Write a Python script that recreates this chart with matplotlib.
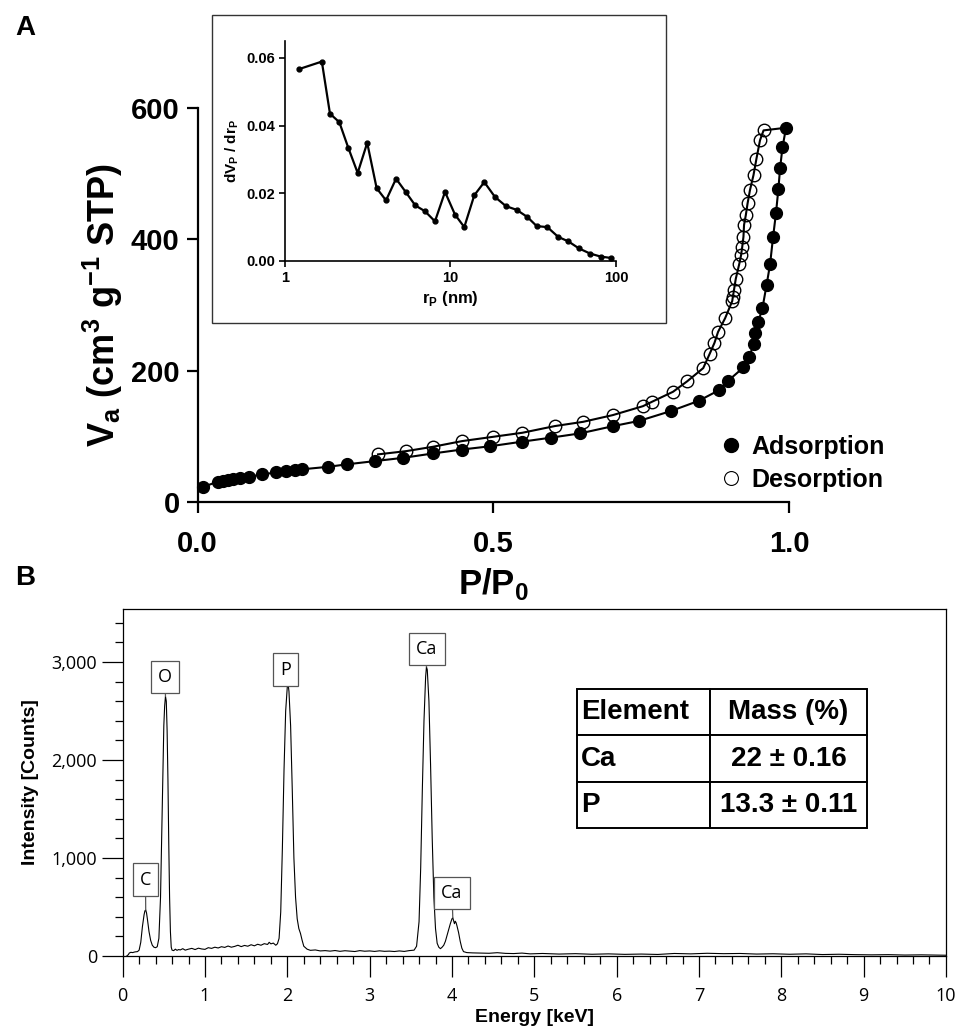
import matplotlib
matplotlib.use("Agg")
import matplotlib.pyplot as plt
from matplotlib.lines import Line2D
from matplotlib.patches import Rectangle
from matplotlib.ticker import MultipleLocator, FuncFormatter, FixedLocator, NullLocator

plt.rcParams["font.family"] = ["Liberation Sans", "DejaVu Sans"]
plt.rcParams["mathtext.fontset"] = "custom"
plt.rcParams["mathtext.rm"] = "Liberation Sans"
plt.rcParams["mathtext.bf"] = "Liberation Sans:bold"

# ---- panel A: N2 isotherm ----
ads_p = [0.009, 0.034, 0.042, 0.052, 0.060, 0.072, 0.087, 0.108, 0.132, 0.149,
         0.165, 0.176, 0.221, 0.252, 0.300, 0.348, 0.398, 0.447, 0.495, 0.549,
         0.597, 0.647, 0.703, 0.747, 0.800, 0.847, 0.882, 0.897, 0.923, 0.933,
         0.940, 0.942, 0.948, 0.955, 0.962, 0.968, 0.973, 0.978, 0.982, 0.985,
         0.989, 0.995]
ads_v = [23, 31, 32, 33.5, 35, 37, 38.5, 42, 45, 47,
         48.7, 49.8, 53.7, 57.4, 62.4, 67.4, 74, 80, 85, 92,
         98, 104.6, 115.7, 123.7, 138.5, 154, 170.5, 184.6, 205, 221,
         240.5, 258, 274.4, 294.8, 330, 362, 403, 440, 476, 509,
         540, 570]
des_p = [0.957, 0.951, 0.945, 0.940, 0.934, 0.930, 0.927, 0.924, 0.923, 0.921,
         0.919, 0.916, 0.910, 0.907, 0.905, 0.904, 0.892, 0.880, 0.874, 0.866,
         0.855, 0.828, 0.804, 0.769, 0.753, 0.702, 0.652, 0.604, 0.549, 0.500,
         0.447, 0.398, 0.353, 0.305]
des_v = [566, 551, 523, 498, 475, 455, 437, 422, 404, 389,
         376, 363, 340, 323, 312, 306, 280, 259, 242.5, 226,
         204, 184, 168, 153, 146, 132.4, 122.2, 115.7, 105.5, 99.4,
         92.8, 84.2, 77.6, 72.6]

# inset: pore size distribution
r_nm = [1.22, 1.67, 1.87, 2.13, 2.41, 2.75, 3.14, 3.58, 4.08, 4.69,
        5.36, 6.13, 7.01, 8.06, 9.27, 10.65, 12.12, 13.93, 16.01, 18.58,
        21.64, 25.11, 29.13, 33.2, 38.5, 44.8, 51.5, 59.8, 69.7, 80.8, 92.9]
dvdr = [0.0567, 0.0589, 0.0435, 0.0410, 0.0335, 0.0260, 0.0349, 0.0215, 0.0179, 0.0243,
        0.0204, 0.0164, 0.0147, 0.0117, 0.0204, 0.0137, 0.0100, 0.0194, 0.0233, 0.0189,
        0.0162, 0.0151, 0.0130, 0.0103, 0.0100, 0.0071, 0.0058, 0.0037, 0.0022, 0.0013, 0.0009]

# ---- panel B: EDS spectrum ----
energy = [0.05, 0.07, 0.08, 0.10, 0.12, 0.15, 0.18, 0.20, 0.22, 0.24, 0.26, 0.27, 0.28,
          0.29, 0.30, 0.32, 0.34, 0.36, 0.38, 0.40, 0.42, 0.44, 0.46, 0.48, 0.50,
          0.51, 0.52, 0.53, 0.54, 0.55, 0.56, 0.57, 0.58, 0.59, 0.60, 0.62, 0.64,
          0.66, 0.68, 0.70, 0.73, 0.76, 0.80, 0.84, 0.88, 0.92, 0.96, 1.00, 1.04,
          1.08, 1.12, 1.16, 1.20, 1.24, 1.28, 1.32, 1.36, 1.40, 1.44, 1.48, 1.52,
          1.56, 1.60, 1.64, 1.68, 1.72, 1.76, 1.78, 1.80, 1.83, 1.86, 1.88, 1.90,
          1.92, 1.94, 1.96, 1.98, 2.00, 2.01, 2.02, 2.04, 2.06, 2.08, 2.10, 2.12,
          2.14, 2.16, 2.18, 2.20, 2.24, 2.28, 2.34, 2.40, 2.46, 2.52, 2.58, 2.64,
          2.70, 2.76, 2.82, 2.88, 2.94, 3.00, 3.06, 3.12, 3.18, 3.24, 3.30, 3.36,
          3.42, 3.48, 3.54, 3.57, 3.60, 3.62, 3.64, 3.66, 3.68, 3.69, 3.70, 3.72,
          3.74, 3.76, 3.78, 3.80, 3.82, 3.84, 3.86, 3.88, 3.90, 3.92, 3.94, 3.96,
          3.98, 4.00, 4.01, 4.02, 4.03, 4.04, 4.05, 4.06, 4.08, 4.10, 4.12, 4.14,
          4.18, 4.25, 4.35, 4.45, 4.55, 4.65, 4.75, 4.85, 4.95, 5.1, 5.3, 5.5,
          5.7, 5.9, 6.1, 6.3, 6.5, 6.7, 6.9, 7.1, 7.3, 7.5, 7.7, 7.9, 8.1, 8.3,
          8.5, 8.7, 8.9, 9.1, 9.3, 9.5, 9.7, 9.9, 10.0]
counts = [0, 15, 30, 38, 35, 42, 45, 60, 140, 300, 420, 460, 470,
          440, 380, 250, 160, 110, 90, 85, 95, 180, 600, 1500, 2350,
          2550, 2650, 2600, 2300, 1800, 1150, 600, 250, 90, 60, 55, 70,
          58, 66, 62, 75, 60, 70, 78, 66, 80, 72, 68, 85,
          78, 90, 82, 95, 88, 102, 90, 98, 110, 96, 108, 100,
          115, 104, 120, 110, 126, 118, 140, 124, 132, 110, 125, 180,
          450, 1100, 1900, 2500, 2750, 2770, 2700, 2350, 1700, 1000, 600, 380,
          280, 230, 160, 100, 70, 58, 62, 52, 55, 50, 56, 48,
          54, 50, 46, 55, 49, 52, 47, 53, 48, 50, 46, 52,
          47, 55, 60, 100, 350, 900, 1700, 2400, 2850, 2950, 2920, 2600,
          1950, 1200, 600, 280, 130, 90, 75, 90, 110, 150, 210, 270,
          330, 380, 390, 360, 330, 355, 340, 310, 240, 150, 80, 45,
          35, 32, 30, 28, 34, 27, 25, 30, 22, 26, 20, 24,
          18, 22, 17, 20, 16, 26, 22, 28, 24, 26, 20, 23, 18, 22,
          15, 18, 14, 12, 14, 10, 12, 9, 8]

peak_names = ["C", "O", "P", "Ca", "Ca"]
peak_x = [0.28, 0.52, 2.01, 3.69, 4.01]
peak_y = [470, 2650, 2770, 2950, 390]
label_x = [0.277, 0.514, 1.98, 3.696, 4.0]
label_y = [780, 2847, 2923, 3133, 643]

table_rows = [["Element", "Mass (%)"], ["Ca", "22 \u00b1 0.16"], ["P", "13.3 \u00b1 0.11"]]

fig = plt.figure(figsize=(9.56, 10.36), dpi=100)

# main isotherm axes
ax = fig.add_axes([0.2068, 0.5154, 0.6185, 0.3803])
ax.plot(ads_p, ads_v, color="black", lw=1.5, marker="o", ms=8.5,
        mfc="black", mec="black", clip_on=False)
ax.plot([ads_p[-1]] + des_p, [ads_v[-1]] + des_v, color="black", lw=1.5)
ax.plot(des_p, des_v, ls="none", marker="o", ms=9, mfc="none", mec="black",
        mew=1.0, clip_on=False)
ax.set_xlim(0, 1.0)
ax.set_ylim(0, 600)
ax.set_xticks([0.0, 0.5, 1.0])
ax.set_yticks([0, 200, 400, 600])
ax.xaxis.set_major_formatter(FuncFormatter(lambda v, p: f"{v:.1f}"))
for s in ["top", "right"]:
    ax.spines[s].set_visible(False)
for s in ["left", "bottom"]:
    ax.spines[s].set_linewidth(1.6)
ax.tick_params(direction="out", length=8, width=1.6, labelsize=21, pad=5)
ax.tick_params(axis="x", pad=12)
for lab in ax.get_xticklabels() + ax.get_yticklabels():
    lab.set_fontweight("bold")
ax.set_xlabel(r"P/P$_\mathbf{0}$", fontsize=25, fontweight="bold", labelpad=6)
ax.set_ylabel(r"V$_\mathbf{a}$ (cm$^\mathbf{3}$ g$^\mathbf{-1}$ STP)",
              fontsize=26, fontweight="bold", labelpad=4)

handles = [Line2D([], [], ls="none", marker="o", ms=10, mfc="black", mec="black"),
           Line2D([], [], ls="none", marker="o", ms=10, mfc="none", mec="black", mew=0.8)]
ax.legend(handles, ["Adsorption", "Desorption"], loc="upper left",
          bbox_to_anchor=(0.728, 0.602), bbox_transform=fig.transFigure,
          frameon=False, handletextpad=0.3, labelspacing=0.35, handlelength=1.0,
          prop={"weight": "bold", "size": 18})

# inset frame and axes
fig.add_artist(Rectangle((0.2218, 0.6882), 0.4749, 0.2973, transform=fig.transFigure,
                         fill=False, lw=1.0, ec="#333333"))
axi = fig.add_axes([0.2981, 0.7481, 0.3462, 0.2124])
axi.plot(r_nm, dvdr, color="black", lw=1.6, marker="o", ms=3.5)
axi.set_xscale("log")
axi.set_xlim(1, 100)
axi.set_ylim(0, 0.065)
axi.xaxis.set_major_locator(FixedLocator([1, 10, 100]))
axi.xaxis.set_minor_locator(NullLocator())
axi.xaxis.set_major_formatter(FuncFormatter(lambda v, p: f"{v:g}"))
axi.set_yticks([0.0, 0.02, 0.04, 0.06])
axi.yaxis.set_major_formatter(FuncFormatter(lambda v, p: f"{v:.2f}"))
for s in ["top", "right"]:
    axi.spines[s].set_visible(False)
for s in ["left", "bottom"]:
    axi.spines[s].set_linewidth(1.2)
axi.tick_params(direction="out", length=4, width=1.2, labelsize=10.5, pad=3)
for lab in axi.get_xticklabels() + axi.get_yticklabels():
    lab.set_fontweight("bold")
axi.set_xlabel(r"r$_\mathbf{P}$ (nm)", fontsize=12, fontweight="bold", labelpad=3)
axi.set_ylabel(r"dV$_\mathbf{P}$ / dr$_\mathbf{P}$", fontsize=11, fontweight="bold", labelpad=4)

# panel B
axb = fig.add_axes([0.1283, 0.0772, 0.8612, 0.3349])
axb.plot(energy, counts, color="black", lw=0.8)
axb.set_xlim(0, 10)
axb.set_ylim(0, 3540)
axb.xaxis.set_major_locator(MultipleLocator(1))
axb.xaxis.set_minor_locator(MultipleLocator(0.2))
axb.yaxis.set_major_locator(MultipleLocator(1000))
axb.yaxis.set_minor_locator(MultipleLocator(200))
axb.yaxis.set_major_formatter(FuncFormatter(lambda v, p: f"{int(v):,}"))
for s in axb.spines.values():
    s.set_linewidth(0.9)
axb.tick_params(which="major", direction="out", length=15, width=0.9, labelsize=13)
axb.tick_params(axis="x", which="major", pad=7)
axb.tick_params(which="minor", direction="out", length=6, width=0.9)
for lab in axb.get_xticklabels() + axb.get_yticklabels():
    lab.set_fontfamily("Open Sans")
axb.set_xlabel("Energy [keV]", fontsize=14, fontweight="bold", labelpad=3)
axb.set_ylabel("Intensity [Counts]", fontsize=14, fontweight="bold", labelpad=9)

for name, px, py, lx, ly in zip(peak_names, peak_x, peak_y, label_x, label_y):
    axb.annotate(name, xy=(px, py), xytext=(lx, ly), ha="center", va="center",
                 fontsize=13, family="Open Sans",
                 bbox=dict(boxstyle="square,pad=0.4", fc="white", ec="#555555", lw=0.9),
                 arrowprops=dict(arrowstyle="-", color="#555555", lw=0.9,
                                 shrinkA=0, shrinkB=0))

tbl = axb.table(cellText=table_rows, colWidths=[0.459, 0.541],
                bbox=[0.5518, 0.3689, 0.3522, 0.4006], cellLoc="center")
tbl.auto_set_font_size(False)
for (row, col), cell in tbl.get_celld().items():
    cell.set_linewidth(1.4)
    cell.set_edgecolor("black")
    txt = cell.get_text()
    txt.set_fontsize(20)
    txt.set_fontweight("bold")
    if col == 0:
        txt.set_ha("left")
        cell.PAD = 0.03

fig.text(0.016, 0.973, "A", fontsize=20, fontweight="bold", ha="left", va="center")
fig.text(0.016, 0.442, "B", fontsize=20, fontweight="bold", ha="left", va="center")

fig.savefig("out.png", dpi=100)
